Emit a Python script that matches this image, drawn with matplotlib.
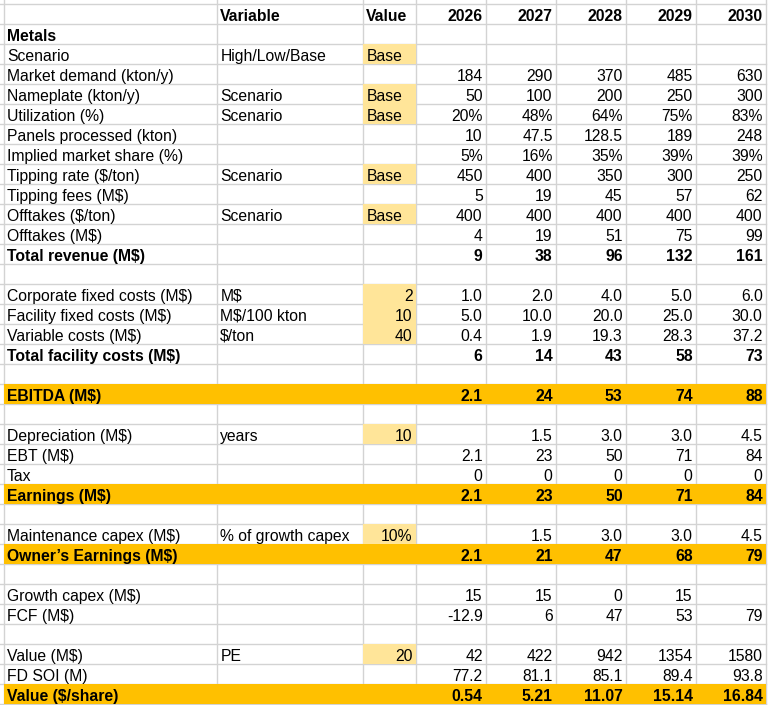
import matplotlib.pyplot as plt
from matplotlib.patches import Rectangle

# spreadsheet contents (as displayed)
years = ['2026', '2027', '2028', '2029', '2030']

row_labels = [
    '', 'Metals', 'Scenario', 'Market demand (kton/y)', 'Nameplate (kton/y)',
    'Utilization (%)', 'Panels processed (kton)', 'Implied market share (%)',
    'Tipping rate ($/ton)', 'Tipping fees (M$)', 'Offtakes ($/ton)',
    'Offtakes (M$)', 'Total revenue (M$)', '',
    'Corporate fixed costs (M$)', 'Facility fixed costs (M$)',
    'Variable costs (M$)', 'Total facility costs (M$)', '',
    'EBITDA (M$)', '',
    'Depreciation (M$)', 'EBT (M$)', 'Tax', 'Earnings (M$)', '',
    'Maintenance capex (M$)', 'Owner\u2019s Earnings (M$)', '',
    'Growth capex (M$)', 'FCF (M$)', '',
    'Value (M$)', 'FD SOI (M)', 'Value ($/share)',
]

variable_col = [
    'Variable', '', 'High/Low/Base', '', 'Scenario', 'Scenario', '', '',
    'Scenario', '', 'Scenario', '', '', '',
    'M$', 'M$/100 kton', '$/ton', '', '', '', '',
    'years', '', '', '', '',
    '% of growth capex', '', '', '', '', '',
    'PE', '', '',
]

value_col = [
    'Value', '', 'Base', '', 'Base', 'Base', '', '', 'Base', '', 'Base', '', '', '',
    '2', '10', '40', '', '', '', '',
    '10', '', '', '', '',
    '10%', '', '', '', '', '',
    '20', '', '',
]

y2026 = ['', '', '', '184', '50', '20%', '10', '5%', '450', '5', '400', '4', '9', '',
         '1.0', '5.0', '0.4', '6', '', '2.1', '',
         '', '2.1', '0', '2.1', '', '', '2.1', '', '15', '-12.9', '',
         '42', '77.2', '0.54']
y2027 = ['', '', '', '290', '100', '48%', '47.5', '16%', '400', '19', '400', '19', '38', '',
         '2.0', '10.0', '1.9', '14', '', '24', '',
         '1.5', '23', '0', '23', '', '1.5', '21', '', '15', '6', '',
         '422', '81.1', '5.21']
y2028 = ['', '', '', '370', '200', '64%', '128.5', '35%', '350', '45', '400', '51', '96', '',
         '4.0', '20.0', '19.3', '43', '', '53', '',
         '3.0', '50', '0', '50', '', '3.0', '47', '', '0', '47', '',
         '942', '85.1', '11.07']
y2029 = ['', '', '', '485', '250', '75%', '189', '39%', '300', '57', '400', '75', '132', '',
         '5.0', '25.0', '28.3', '58', '', '74', '',
         '3.0', '71', '0', '71', '', '3.0', '68', '', '15', '53', '',
         '1354', '89.4', '15.14']
y2030 = ['', '', '', '630', '300', '83%', '248', '39%', '250', '62', '400', '99', '161', '',
         '6.0', '30.0', '37.2', '73', '', '88', '',
         '4.5', '84', '0', '84', '', '4.5', '79', '', '', '79', '',
         '1580', '93.8', '16.84']
year_cols = [y2026, y2027, y2028, y2029, y2030]

# formatting
bold_rows = [0, 1, 12, 17, 19, 24, 27, 34]
orange_rows = [19, 24, 27, 34]
input_rows = [2, 4, 5, 8, 10, 14, 15, 16, 21, 26, 32]

W, H = 769, 705
top, row_h = 4.3, 20
col_edges = [4, 217.3, 363.3, 415.7, 485.7, 555.7, 625.7, 695.7, 765.7]
grid_c = '#d3d3d3'
orange = '#ffc000'
yellow = '#ffe599'
fs = 11.3

plt.rcParams['font.family'] = ['Liberation Sans', 'DejaVu Sans']

fig = plt.figure(figsize=(W / 100, H / 100), dpi=100)
ax = fig.add_axes([0, 0, 1, 1])
ax.set_xlim(0, W)
ax.set_ylim(H, 0)
ax.axis('off')

n_rows = len(row_labels)

# gridlines
for x in col_edges:
    ax.plot([x, x], [0, H], color=grid_c, lw=1, zorder=1)
y = top
while y < H:
    ax.plot([0, col_edges[-1]], [y, y], color=grid_c, lw=1, zorder=1)
    y += row_h

# fills
for r in orange_rows:
    ax.add_patch(Rectangle((col_edges[0], top + r * row_h), col_edges[-1] - col_edges[0],
                           row_h, facecolor=orange, edgecolor='none', zorder=2))
for r in input_rows:
    ax.add_patch(Rectangle((col_edges[2], top + r * row_h), col_edges[3] - col_edges[2],
                           row_h, facecolor=yellow, edgecolor='none', zorder=2))


def put(txt, col, r, align, bold):
    if not txt:
        return
    yb = top + (r + 1) * row_h - 3.6
    if align == 'left':
        x = col_edges[col] + 3
    else:
        x = col_edges[col + 1] - 3
    ax.text(x, yb, txt, ha=align, va='baseline', fontsize=fs,
            fontweight='bold' if bold else 'normal', color='black', zorder=3)


for r in range(n_rows):
    b = r in bold_rows
    put(row_labels[r], 0, r, 'left', b)
    put(variable_col[r], 1, r, 'left', b)
    v = value_col[r]
    is_text = not any(ch.isdigit() for ch in v)
    put(v, 2, r, 'left' if is_text else 'right', b)
    for j, col in enumerate(year_cols):
        txt = years[j] if r == 0 else col[r]
        put(txt, 3 + j, r, 'right', b)

fig.savefig('out.png', dpi=100)
